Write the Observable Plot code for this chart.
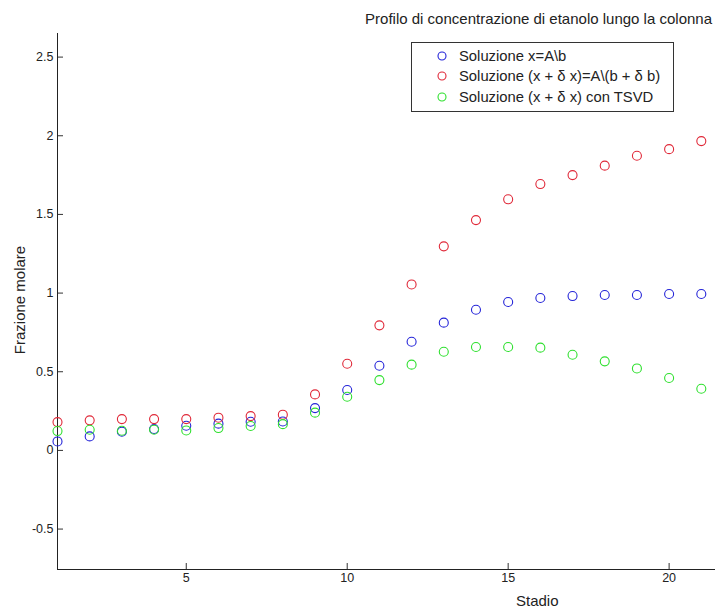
<!DOCTYPE html>
<html>
<head>
<meta charset="utf-8">
<script src="https://cdn.jsdelivr.net/npm/d3@7"></script>
<script src="https://cdn.jsdelivr.net/npm/@observablehq/plot@0.6"></script>
<style>
  html, body { margin: 0; padding: 0; background: #fff; }
  #wrap { position: relative; width: 715px; height: 610px; overflow: hidden; font-family: "Liberation Sans", Arial, sans-serif; color: #222; }
  .ov { position: absolute; white-space: nowrap; font-size: 15px; line-height: 17px; }
  #legend { position: absolute; left: 411px; top: 42px; width: 263px; height: 70px; border: 1px solid #333; background: #fff; box-sizing: border-box; }
  #legend .row { position: absolute; left: 0; height: 18px; display: flex; align-items: center; font-size: 14.8px; white-space: nowrap; }
  #legend svg { margin-left: 25px; margin-right: 12px; }
</style>
</head>
<body>
<div id="wrap"></div>
<script>
// ---- data ----
const stadio = [1,2,3,4,5,6,7,8,9,10,11,12,13,14,15,16,17,18,19,20,21];
const solA = [0.057,0.089,0.119,0.136,0.157,0.170,0.182,0.184,0.269,0.384,0.538,0.691,0.812,0.894,0.943,0.969,0.981,0.988,0.988,0.994,0.994];
const solPert = [0.180,0.191,0.199,0.199,0.199,0.208,0.218,0.227,0.356,0.551,0.795,1.055,1.297,1.464,1.596,1.693,1.750,1.810,1.873,1.915,1.966];
const solTSVD = [0.123,0.131,0.125,0.131,0.127,0.142,0.155,0.167,0.240,0.341,0.447,0.545,0.627,0.657,0.657,0.653,0.608,0.566,0.521,0.460,0.392];
const seriesNames = ["Soluzione x=A\\b", "Soluzione (x + δ x)=A\\(b + δ b)", "Soluzione (x + δ x) con TSVD"];
const seriesColors = ["#2424d8", "#e02838", "#2ee02e"];
const xTicks = [5, 10, 15, 20];
const yTicks = [-0.5, 0, 0.5, 1, 1.5, 2, 2.5];
const xDomain = [1, 22];
const yDomain = [-0.757, 2.65];
const titleText = "Profilo di concentrazione di etanolo lungo la colonna";
const xLabel = "Stadio";
const yLabel = "Frazione molare";

const seriesValues = [solA, solPert, solTSVD];
const rows = [];
seriesValues.forEach((vals, s) => vals.forEach((v, i) => rows.push({stadio: stadio[i], value: v, serie: seriesNames[s]})));

const plot = Plot.plot({
  width: 715,
  height: 610,
  marginTop: 33,
  marginBottom: 41,
  marginLeft: 57,
  marginRight: 0,
  style: {fontFamily: "Liberation Sans, Arial, sans-serif", fontSize: "12.5px", color: "#222", background: "#fff"},
  x: {domain: xDomain, range: [57, 733], label: null},
  y: {domain: yDomain, label: null},
  color: {domain: seriesNames, range: seriesColors},
  marks: [
    Plot.axisX({ticks: xTicks, tickFormat: d => String(d), tickSize: -6, tickPadding: 10, label: null, stroke: "#333"}),
    Plot.axisY({ticks: yTicks, tickFormat: d => String(d), tickSize: -6, tickPadding: 10, label: null, stroke: "#333"}),
    Plot.ruleX([xDomain[0]], {stroke: "#222"}),
    Plot.ruleY([yDomain[0]], {stroke: "#222"}),
    Plot.dot(rows, {x: "stadio", y: "value", stroke: "serie", r: 4.5, strokeWidth: 1.1, fill: "none"})
  ]
});

const wrap = document.getElementById("wrap");
wrap.appendChild(plot);

function overlay(text, css) {
  const d = document.createElement("div");
  d.className = "ov";
  d.textContent = text;
  Object.assign(d.style, css);
  wrap.appendChild(d);
  return d;
}
overlay(titleText, {right: "3px", top: "10px"});
overlay(xLabel, {left: "516px", top: "592px"});
overlay(yLabel, {left: "19px", top: "300px", transform: "translate(-50%, -50%) rotate(-90deg)"});

const leg = document.createElement("div");
leg.id = "legend";
seriesNames.forEach((name, i) => {
  const r = document.createElement("div");
  r.className = "row";
  r.style.top = (4 + i * 20.3) + "px";
  r.innerHTML = `<svg width="10" height="10"><circle cx="5" cy="5" r="4" fill="none" stroke="${seriesColors[i]}" stroke-width="1.1"/></svg><span></span>`;
  r.querySelector("span").textContent = name;
  leg.appendChild(r);
});
wrap.appendChild(leg);
</script>
</body>
</html>
